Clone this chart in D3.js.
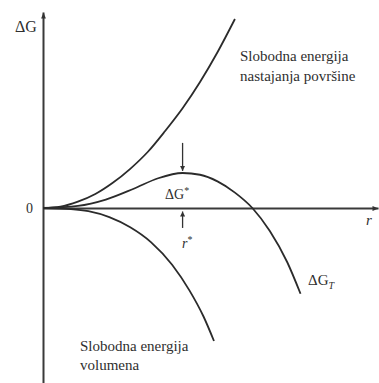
<!DOCTYPE html>
<html>
<head>
<meta charset="utf-8">
<script src="https://cdn.jsdelivr.net/npm/d3@7"></script>
<style>
    body { margin: 0; background: #fff; }
    text { font-family: "Liberation Serif", "DejaVu Serif", serif; fill: #2f2f2f; }
</style>
</head>
<body>
<div id="chart"></div>
<script>
// surface formation energy (rises with r)
const surfaceR = [0, 0.5, 1, 1.5, 2, 2.5, 3, 3.5, 4, 4.5, 5, 5.5];
const surfaceG = [0, 0.04, 0.18, 0.4, 0.72, 1.12, 1.6, 2.2, 2.85, 3.6, 4.45, 5.4];

// volume free energy (falls with r)
const volumeR = [0, 0.8, 1.3, 1.9, 2.5, 3.1, 3.7, 4.2, 4.6, 4.9];
const volumeG = [0, -0.03, -0.09, -0.26, -0.55, -0.98, -1.62, -2.36, -3.1, -3.8];

// total ΔG_T
const totalR = [0, 1, 1.8, 2.6, 3.3, 4, 4.5, 5, 5.5, 6, 6.5, 7, 7.38];
const totalG = [0, 0.06, 0.24, 0.55, 0.85, 1.0, 0.95, 0.76, 0.44, 0, -0.66, -1.55, -2.45];

// critical radius / barrier
const rStar = 4;
const gStar = 1.0;

const width = 379, height = 383;

const svg = d3.select('#chart')
    .append('svg')
    .attr('width', width)
    .attr('height', height);

const x = d3.scaleLinear().domain([0, 9.6]).range([43, 378]);
const y = d3.scaleLinear().domain([-5, 5.6]).range([383, 12]);

// arrow heads
const defs = svg.append('defs');
defs.append('marker')
    .attr('id', 'axisArrow')
    .attr('viewBox', '0 0 10 10')
    .attr('refX', 10).attr('refY', 5)
    .attr('markerWidth', 8).attr('markerHeight', 6)
    .attr('markerUnits', 'userSpaceOnUse')
    .attr('orient', 'auto')
    .append('path')
    .attr('d', 'M0,1L10,5L0,9Z')
    .attr('fill', '#333');
defs.append('marker')
    .attr('id', 'smallArrow')
    .attr('viewBox', '0 0 10 10')
    .attr('refX', 10).attr('refY', 5)
    .attr('markerWidth', 7).attr('markerHeight', 5)
    .attr('markerUnits', 'userSpaceOnUse')
    .attr('orient', 'auto')
    .append('path')
    .attr('d', 'M0,0L10,5L0,10Z')
    .attr('fill', '#333');

// axes without ticks
svg.append('g')
    .attr('transform', `translate(0,${y(0)})`)
    .call(d3.axisBottom(x).tickValues([]).tickSizeOuter(0));
svg.append('g')
    .attr('transform', `translate(${x(0)},0)`)
    .call(d3.axisLeft(y).tickValues([]).tickSizeOuter(0));

svg.selectAll('.domain')
    .attr('stroke', '#3a3a3a')
    .attr('stroke-width', 2)
    .attr('marker-end', 'url(#axisArrow)');

// curves
const line = d3.line()
    .x(d => x(d[0]))
    .y(d => y(d[1]))
    .curve(d3.curveMonotoneX);

const curves = [
    d3.zip(surfaceR, surfaceG),
    d3.zip(volumeR, volumeG),
    d3.zip(totalR, totalG)
];

svg.selectAll('path.curve')
    .data(curves)
    .enter()
    .append('path')
    .attr('class', 'curve')
    .attr('d', line)
    .attr('fill', 'none')
    .attr('stroke', '#2b2b2b')
    .attr('stroke-width', 1.8);

// arrows marking the barrier and the critical radius
svg.append('line')
    .attr('x1', x(rStar)).attr('y1', y(gStar + 0.86))
    .attr('x2', x(rStar)).attr('y2', y(gStar + 0.06))
    .attr('stroke', '#333').attr('stroke-width', 1.3)
    .attr('marker-end', 'url(#smallArrow)');
svg.append('line')
    .attr('x1', x(rStar)).attr('y1', y(-0.57))
    .attr('x2', x(rStar)).attr('y2', y(-0.1))
    .attr('stroke', '#333').attr('stroke-width', 1.3)
    .attr('marker-end', 'url(#smallArrow)');

// labels
svg.append('text')
    .attr('x', 15).attr('y', 32)
    .attr('font-size', 16)
    .text('ΔG');

svg.append('text')
    .attr('x', 26).attr('y', 213)
    .attr('font-size', 14)
    .text('0');

svg.append('text')
    .attr('x', 366).attr('y', 225)
    .attr('font-size', 15)
    .attr('font-style', 'italic')
    .text('r');

const gs = svg.append('text')
    .attr('x', 165).attr('y', 199)
    .attr('font-size', 14);
gs.append('tspan').text('ΔG');
gs.append('tspan').attr('font-size', 10).attr('dy', -5).text('*');

const rs = svg.append('text')
    .attr('x', 182).attr('y', 248)
    .attr('font-size', 14);
rs.append('tspan').attr('font-style', 'italic').text('r');
rs.append('tspan').attr('font-size', 10).attr('dy', -5).text('*');

const gt = svg.append('text')
    .attr('x', 308).attr('y', 285)
    .attr('font-size', 15);
gt.append('tspan').text('ΔG');
gt.append('tspan').attr('font-size', 10).attr('font-style', 'italic').attr('dy', 4).text('T');

const surfLines = ['Slobodna energija', 'nastajanja površine'];
svg.append('g').selectAll('text')
    .data(surfLines)
    .enter()
    .append('text')
    .attr('x', 240)
    .attr('y', (d, i) => 61 + i * 20)
    .attr('font-size', 15)
    .text(d => d);

const volLines = ['Slobodna energija', 'volumena'];
svg.append('g').selectAll('text')
    .data(volLines)
    .enter()
    .append('text')
    .attr('x', 80)
    .attr('y', (d, i) => 351 + i * 19)
    .attr('font-size', 15)
    .text(d => d);
</script>
</body>
</html>
